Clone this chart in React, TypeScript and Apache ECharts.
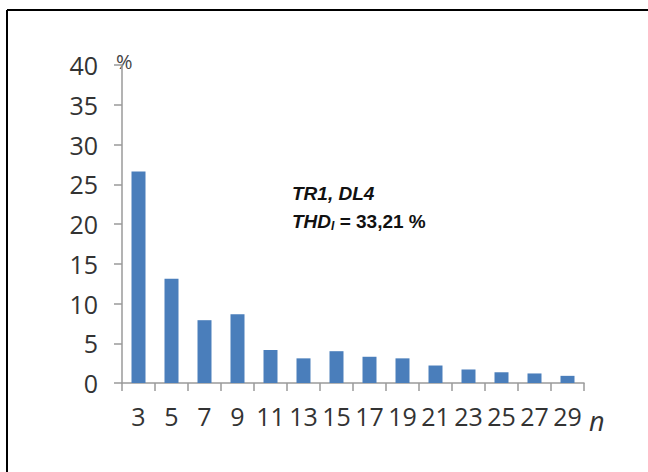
import React, { useEffect, useRef } from "react";
import * as echarts from "echarts";

const harmonics = ["3", "5", "7", "9", "11", "13", "15", "17", "19", "21", "23", "25", "27", "29"];
const thdValues = [26.6, 13.1, 7.9, 8.65, 4.15, 3.1, 4.0, 3.3, 3.1, 2.2, 1.7, 1.35, 1.2, 0.9];
const yTicks = { min: 0, max: 40, interval: 5 };
const annotationLine1 = "TR1, DL4";
const annotationValue = " = 33,21 %";

export default function App() {
  const ref = useRef<HTMLDivElement>(null);
  useEffect(() => {
    if (!ref.current) return;
    const chart = echarts.init(ref.current, null, { renderer: "svg" });
    chart.setOption({
      animation: false,
      backgroundColor: "#ffffff",
      grid: { left: 122, top: 65, right: 64, bottom: 89, containLabel: false },
      xAxis: {
        type: "category",
        data: harmonics,
        boundaryGap: true,
        axisLine: { lineStyle: { color: "#9a9a9a", width: 1.5 } },
        axisTick: { show: true, alignWithLabel: false, length: 8, lineStyle: { color: "#9a9a9a", width: 1.5 } },
        axisLabel: {
          color: "#333333",
          fontFamily: "Open Sans",
          fontSize: 25,
          margin: 20,
          interval: 0,
        },
      },
      yAxis: {
        type: "value",
        min: yTicks.min,
        max: yTicks.max,
        interval: yTicks.interval,
        splitLine: { show: false },
        axisLine: { show: true, lineStyle: { color: "#9a9a9a", width: 1.5 } },
        axisTick: { show: true, length: 8, lineStyle: { color: "#9a9a9a", width: 1.5 } },
        axisLabel: {
          color: "#333333",
          fontFamily: "Open Sans",
          fontSize: 25,
          margin: 24,
        },
      },
      series: [
        {
          type: "bar",
          data: thdValues,
          barWidth: 14,
          itemStyle: { color: "#4a7ebb" },
        },
      ],
      graphic: [
        { type: "line", shape: { x1: 7, y1: 10, x2: 648, y2: 10 }, style: { stroke: "#000", lineWidth: 2 } },
        { type: "line", shape: { x1: 7, y1: 10, x2: 7, y2: 472 }, style: { stroke: "#000", lineWidth: 2 } },
        {
          type: "text",
          x: 116,
          y: 61,
          style: { text: "%", fontFamily: "Open Sans", fontSize: 20, fill: "#444", verticalAlign: "middle" },
        },
        {
          type: "text",
          x: 589,
          y: 420,
          style: { text: "n", fontFamily: "Open Sans", fontStyle: "italic", fontSize: 27, fill: "#333", verticalAlign: "middle" },
        },
        {
          type: "text",
          x: 292,
          y: 179,
          style: {
            text: "{bi|" + annotationLine1 + "}\n{bi|THD}{sub|I}{b|" + annotationValue + "}",
            fill: "#111",
            rich: {
              bi: { fontFamily: "Liberation Sans", fontSize: 19, fontWeight: "bold", fontStyle: "italic", lineHeight: 28, fill: "#111" },
              sub: { fontFamily: "Liberation Sans", fontSize: 12, fontStyle: "italic", fontWeight: "bold", padding: [10, 0, 0, 0], lineHeight: 28, fill: "#111" },
              b: { fontFamily: "Liberation Sans", fontSize: 19, fontWeight: "bold", lineHeight: 28, fill: "#111" },
            },
          },
        },
      ],
    });
    return () => chart.dispose();
  }, []);
  return (
    <div
      ref={ref}
      style={{ position: "fixed", left: 0, top: 0, width: 648, height: 472 }}
    />
  );
}
